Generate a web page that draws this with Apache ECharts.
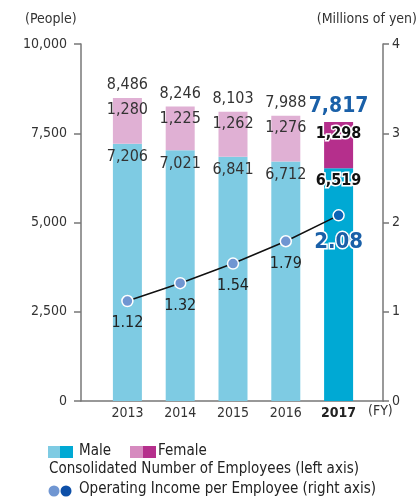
<!DOCTYPE html>
<html>
<head>
<meta charset="utf-8">
<script src="https://cdn.jsdelivr.net/npm/echarts@6/dist/echarts.min.js"></script>
<style>
  html, body { margin: 0; padding: 0; background: #fff; }
  #chart { width: 420px; height: 501px; }
</style>
</head>
<body>
<div id="chart"></div>
<script>
var years = ['2013', '2014', '2015', '2016', '2017'];
var maleData = [7206, 7021, 6841, 6712, 6519];
var femaleData = [1280, 1225, 1262, 1276, 1298];
var totalData = [8486, 8246, 8103, 7988, 7817];
var incomeData = [1.12, 1.32, 1.54, 1.79, 2.08];
var leftTicks = [0, 2500, 5000, 7500, 10000];
var rightTicks = [0, 1, 2, 3, 4];

var FONT = '"Liberation Sans Narrow", "DejaVu Sans Condensed", "Roboto", sans-serif';
var TXT = '#333';
var AXIS = '#777';
var last = years.length - 1;

function fmt(v) {
  return String(v).replace(/\B(?=(\d{3})+(?!\d))/g, ',');
}

var chart = echarts.init(document.getElementById('chart'));

// 男性 / 女性 bars, 2017 is highlighted
var maleSeriesData = maleData.map(function (v, i) {
  if (i !== last) return v;
  return {
    value: v,
    itemStyle: { color: '#00a9d4' },
    label: { fontWeight: 'bold', color: '#111', textBorderColor: '#fff', textBorderWidth: 3 }
  };
});
var femaleSeriesData = femaleData.map(function (v, i) {
  if (i !== last) return v;
  return {
    value: v,
    itemStyle: { color: '#b52f8c' },
    label: { fontWeight: 'bold', color: '#111', textBorderColor: '#fff', textBorderWidth: 3 }
  };
});
var totalSeriesData = totalData.map(function (v, i) {
  if (i !== last) return v;
  return {
    value: v,
    label: { fontSize: 21, fontWeight: 'bold', color: '#1a60a8', distance: 5 }
  };
});
var incomeSeriesData = incomeData.map(function (v, i) {
  if (i !== last) return v;
  return {
    value: v,
    itemStyle: { color: '#0d63b5' },
    label: { fontSize: 22, fontWeight: 'bold', color: '#1a60a8', textBorderColor: '#fff', textBorderWidth: 3, distance: 10 }
  };
});

chart.setOption({
  backgroundColor: '#fff',
  animation: false,
  textStyle: { fontFamily: FONT },
  grid: [
    { left: 101, right: 55, top: 44, bottom: 100 },
    { left: 81, right: 37, top: 44, bottom: 100 } // only for the base line
  ],
  xAxis: [{
    type: 'category',
    data: years.map(function (y, i) {
      return i === last ? { value: y, textStyle: { fontWeight: 'bold', color: '#222' } } : y;
    }),
    axisLine: { show: false },
    axisTick: { show: false },
    axisLabel: { color: TXT, fontSize: 14, margin: 5, fontFamily: FONT }
  }, {
    type: 'value',
    gridIndex: 1,
    min: 0,
    max: 1,
    axisLine: { show: true, lineStyle: { color: AXIS, width: 1.5 } },
    axisTick: { show: false },
    axisLabel: { show: false },
    splitLine: { show: false }
  }],
  yAxis: [{
    type: 'value',
    min: leftTicks[0],
    max: leftTicks[leftTicks.length - 1],
    interval: 2500,
    offset: 20,
    axisLine: { show: true, lineStyle: { color: AXIS, width: 1.5 } },
    axisTick: { show: true, length: 7, lineStyle: { color: AXIS, width: 1.5 } },
    axisLabel: { color: TXT, fontSize: 14, margin: 14, formatter: fmt, fontFamily: FONT },
    splitLine: { show: false }
  }, {
    type: 'value',
    position: 'right',
    min: rightTicks[0],
    max: rightTicks[rightTicks.length - 1],
    interval: 1,
    offset: 18,
    axisLine: { show: true, lineStyle: { color: AXIS, width: 1.5 } },
    axisTick: { show: true, length: 6, lineStyle: { color: AXIS, width: 1.5 } },
    axisLabel: { color: TXT, fontSize: 14, margin: 9, fontFamily: FONT },
    splitLine: { show: false }
  }, {
    type: 'value',
    gridIndex: 1,
    show: false
  }],
  series: [{
    name: 'Male',
    type: 'bar',
    stack: 'emp',
    barWidth: 29,
    itemStyle: { color: '#7ecbe3' },
    label: {
      show: true, position: 'insideTop', distance: 5,
      fontSize: 16, color: TXT, fontFamily: FONT, formatter: function (p) { return fmt(p.value); }
    },
    data: maleSeriesData
  }, {
    name: 'Female',
    type: 'bar',
    stack: 'emp',
    barWidth: 29,
    itemStyle: { color: '#e0b0d4' },
    label: {
      show: true, position: 'insideTop', distance: 4,
      fontSize: 16, color: TXT, fontFamily: FONT, formatter: function (p) { return fmt(p.value); }
    },
    data: femaleSeriesData
  }, {
    // 合計ラベル用（透明）
    name: 'Total',
    type: 'bar',
    barWidth: 29,
    barGap: '-100%',
    z: 1,
    itemStyle: { color: 'rgba(0,0,0,0)' },
    label: {
      show: true, position: 'top', distance: 5,
      fontSize: 16, color: TXT, fontFamily: FONT, formatter: function (p) { return fmt(p.value); }
    },
    data: totalSeriesData
  }, {
    name: 'Operating Income per Employee',
    type: 'line',
    yAxisIndex: 1,
    z: 5,
    symbol: 'circle',
    symbolSize: 11,
    lineStyle: { color: '#111', width: 1.5 },
    itemStyle: { color: '#7096d2', borderColor: '#fff', borderWidth: 1.5 },
    label: {
      show: true, position: 'bottom', distance: 8,
      fontSize: 16, color: '#222', fontFamily: FONT,
      formatter: function (p) { return p.value.toFixed(2); }
    },
    data: incomeSeriesData
  }],
  graphic: [
    { type: 'text', left: 25, top: 12, style: { text: '(People)', font: '14px ' + FONT, fill: TXT } },
    { type: 'text', right: 3, top: 12, style: { text: '(Millions of yen)', font: '14px ' + FONT, fill: TXT } },
    { type: 'text', left: 368, top: 404, style: { text: '(FY)', font: '14px ' + FONT, fill: TXT } },
    // legend
    { type: 'rect', shape: { x: 48, y: 446, width: 12, height: 12 }, style: { fill: '#7ecbe3' } },
    { type: 'rect', shape: { x: 60, y: 446, width: 13, height: 12 }, style: { fill: '#00a9d4' } },
    { type: 'text', left: 79, top: 444, style: { text: 'Male', font: '15px ' + FONT, fill: '#222' } },
    { type: 'rect', shape: { x: 130, y: 446, width: 13, height: 12 }, style: { fill: '#d68abf' } },
    { type: 'rect', shape: { x: 143, y: 446, width: 13, height: 12 }, style: { fill: '#b52f8c' } },
    { type: 'text', left: 158, top: 444, style: { text: 'Female', font: '15px ' + FONT, fill: '#222' } },
    { type: 'text', left: 49, top: 462, style: { text: 'Consolidated Number of Employees (left axis)', font: '15px ' + FONT, fill: '#222' } },
    { type: 'circle', shape: { cx: 54, cy: 491, r: 5.5 }, style: { fill: '#7096d2' } },
    { type: 'circle', shape: { cx: 66, cy: 491, r: 5.5 }, style: { fill: '#0d4fa8' } },
    { type: 'text', left: 79, top: 482, style: { text: 'Operating Income per Employee (right axis)', font: '15px ' + FONT, fill: '#222' } }
  ]
});
</script>
</body>
</html>
